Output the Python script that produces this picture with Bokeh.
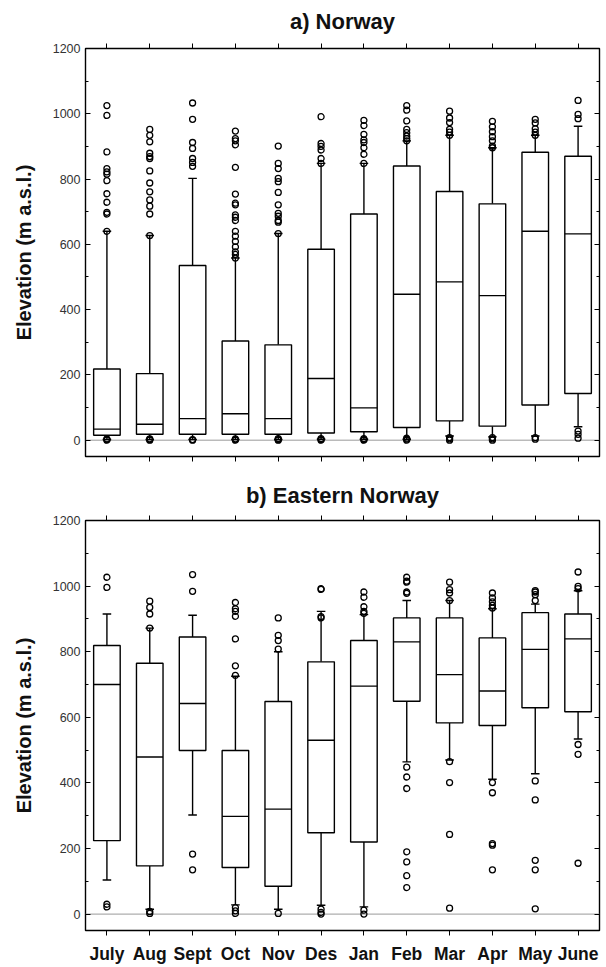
from bokeh.plotting import figure
from bokeh.models import (ColumnDataSource, FactorRange, Range1d, SingleIntervalTicker,
                          LinearAxis, CategoricalAxis, Span, CustomLabelingPolicy)
from bokeh.layouts import column
from bokeh.transform import dodge
from bokeh.embed import file_html
from bokeh.resources import INLINE

months = ["July", "Aug", "Sept", "Oct", "Nov", "Des", "Jan", "Feb", "Mar", "Apr", "May", "June"]

# ---- a) Norway ----
a_q1 = [15, 18, 18, 18, 18, 22, 26, 39, 59, 43, 108, 143]
a_med = [34, 49, 66, 81, 66, 189, 99, 447, 485, 443, 640, 632]
a_q3 = [218, 204, 535, 304, 292, 585, 693, 840, 762, 724, 882, 870]
a_wlo = [2, 2, 2, 2, 2, 3, 3, 3, 13, 10, 13, 41]
a_whi = [640, 627, 802, 558, 633, 848, 848, 917, 934, 896, 934, 962]
a_out = [
    [1025, 995, 883, 832, 822, 815, 795, 755, 729, 698, 693, 640, 0, 2, 4],
    [952, 934, 914, 879, 869, 863, 825, 788, 761, 736, 717, 693, 627, 0, 2, 4],
    [1033, 983, 912, 894, 863, 851, 839, 0, 2],
    [947, 924, 917, 905, 836, 754, 726, 721, 690, 683, 673, 640, 625, 609, 592, 577, 569, 558, 0, 2, 4],
    [901, 848, 832, 802, 792, 759, 721, 695, 686, 673, 668, 633, 0, 2, 5],
    [991, 909, 900, 889, 863, 848, 0, 2, 5],
    [980, 964, 937, 920, 912, 896, 876, 848, 0, 2, 5],
    [1025, 1011, 978, 952, 942, 932, 924, 917, 0, 3, 6],
    [1008, 987, 973, 952, 944, 934, 0, 4, 8],
    [977, 960, 945, 930, 917, 901, 896, 0, 4, 8],
    [983, 972, 954, 944, 934, 3, 8],
    [1041, 998, 985, 28, 18, 6],
]

# ---- b) Eastern Norway ----
b_q1 = [224, 147, 499, 142, 85, 248, 220, 649, 583, 575, 629, 617]
b_med = [700, 479, 642, 298, 320, 530, 695, 830, 730, 680, 807, 839]
b_q3 = [819, 765, 845, 499, 648, 769, 834, 903, 903, 842, 919, 915]
b_wlo = [104, 15, 302, 28, 15, 27, 22, 464, 470, 411, 428, 534]
b_whi = [915, 872, 911, 725, 800, 923, 913, 956, 956, 931, 945, 986]
b_out = [
    [1027, 996, 30, 22],
    [954, 935, 915, 872, 8, 2],
    [1035, 984, 183, 135],
    [950, 931, 923, 908, 839, 757, 728, 20, 10, 2],
    [903, 850, 834, 808, 2],
    [992, 990, 907, 903, 15, 5, 0],
    [982, 966, 937, 923, 917, 12, 0],
    [1027, 1015, 1012, 982, 978, 448, 418, 383, 190, 159, 117, 81],
    [1012, 989, 979, 956, 465, 401, 243, 18],
    [979, 964, 952, 941, 933, 401, 370, 215, 210, 135],
    [986, 982, 974, 956, 406, 348, 164, 135, 16],
    [1043, 999, 992, 517, 487, 155],
]

y_ticks_interval = 200
FONT = "Liberation Sans"


def no_labels():
    return CustomLabelingPolicy(code="for (const i of Array.from(indices)) { indices.unset(i) }\nreturn indices")


def make_panel(title, q1, med, q3, wlo, whi, outs, show_labels, height, border_top,
               border_bottom, title_standoff):
    p = figure(x_range=FactorRange(*months), y_range=Range1d(-50, 1200),
               width=604, height=height, output_backend="svg", toolbar_location=None,
               min_border_left=85, min_border_right=5, min_border_top=border_top,
               min_border_bottom=border_bottom, x_axis_location=None, y_axis_location=None)
    p.title.text = title
    p.title.align = "center"
    p.title.text_font = FONT
    p.title.text_font_size = "22px"
    p.title.text_font_style = "bold"
    p.title.text_color = "#111111"
    p.title.standoff = title_standoff
    p.xgrid.visible = False
    p.ygrid.visible = False
    p.outline_line_color = "black"
    p.outline_line_width = 1.4
    p.background_fill_color = "white"

    # axes
    yl = LinearAxis(ticker=SingleIntervalTicker(interval=y_ticks_interval, num_minor_ticks=2),
                    axis_label="Elevation (m a.s.l.)", axis_label_text_font=FONT,
                    axis_label_text_font_size="20px", axis_label_text_font_style="bold",
                    axis_label_text_color="#111111", axis_label_standoff=15,
                    major_label_text_font=FONT, major_label_text_font_size="12.5px",
                    major_label_text_color="#333333", major_label_standoff=5,
                    major_tick_in=5, major_tick_out=0, minor_tick_in=3, minor_tick_out=0,
                    axis_line_color=None)
    p.add_layout(yl, "left")
    yr = LinearAxis(ticker=SingleIntervalTicker(interval=y_ticks_interval, num_minor_ticks=2),
                    major_label_policy=no_labels(), major_label_standoff=0,
                    major_label_text_font_size="1px",
                    major_tick_in=5, major_tick_out=0, minor_tick_in=3, minor_tick_out=0,
                    axis_line_color=None)
    p.add_layout(yr, "right")
    xt = CategoricalAxis(major_label_policy=no_labels(), major_label_standoff=0,
                         major_label_text_font_size="1px",
                         major_tick_in=0, major_tick_out=5, axis_line_color=None)
    p.add_layout(xt, "above")
    if show_labels:
        xb = CategoricalAxis(major_label_text_font=FONT, major_label_text_font_size="17.5px",
                             major_label_text_font_style="bold", major_label_text_color="#111111",
                             major_label_standoff=8, major_tick_in=0, major_tick_out=5,
                             axis_line_color=None)
    else:
        xb = CategoricalAxis(major_label_policy=no_labels(), major_label_standoff=0,
                             major_label_text_font_size="1px",
                             major_tick_in=0, major_tick_out=5, axis_line_color=None)
    p.add_layout(xb, "below")

    p.add_layout(Span(location=0, dimension="width", line_color="#999999", line_width=1, level="underlay"))

    src = ColumnDataSource(dict(m=months, q1=q1, med=med, q3=q3, wlo=wlo, whi=whi))
    # whiskers
    p.segment(x0="m", x1="m", y0="q3", y1="whi", source=src, line_color="black", line_width=1.4)
    p.segment(x0="m", x1="m", y0="q1", y1="wlo", source=src, line_color="black", line_width=1.4)
    # caps
    p.segment(x0=dodge("m", -0.1, range=p.x_range), x1=dodge("m", 0.1, range=p.x_range),
              y0="whi", y1="whi", source=src, line_color="black", line_width=1.4)
    p.segment(x0=dodge("m", -0.1, range=p.x_range), x1=dodge("m", 0.1, range=p.x_range),
              y0="wlo", y1="wlo", source=src, line_color="black", line_width=1.4)
    # boxes
    p.vbar(x="m", width=0.62, bottom="q1", top="q3", source=src, fill_color="white",
           line_color="black", line_width=1.4)
    # medians
    p.segment(x0=dodge("m", -0.31, range=p.x_range), x1=dodge("m", 0.31, range=p.x_range),
              y0="med", y1="med", source=src, line_color="black", line_width=1.4)
    # outliers
    ox, oy = [], []
    for m, vals in zip(months, outs):
        for v in vals:
            ox.append(m)
            oy.append(v)
    p.scatter(x=ox, y=oy, marker="circle", size=6, fill_color="white", fill_alpha=0,
              line_color="black", line_width=1.3)
    return p


pa = make_panel("a) Norway", a_q1, a_med, a_q3, a_wlo, a_whi, a_out, False, 476, 46, 20, 12)
pb = make_panel("b) Eastern Norway", b_q1, b_med, b_q3, b_wlo, b_whi, b_out, True, 491, 43, 37, 8)

layout = column(pa, pb, spacing=0)
open("out.html", "w").write(file_html(layout, INLINE))
